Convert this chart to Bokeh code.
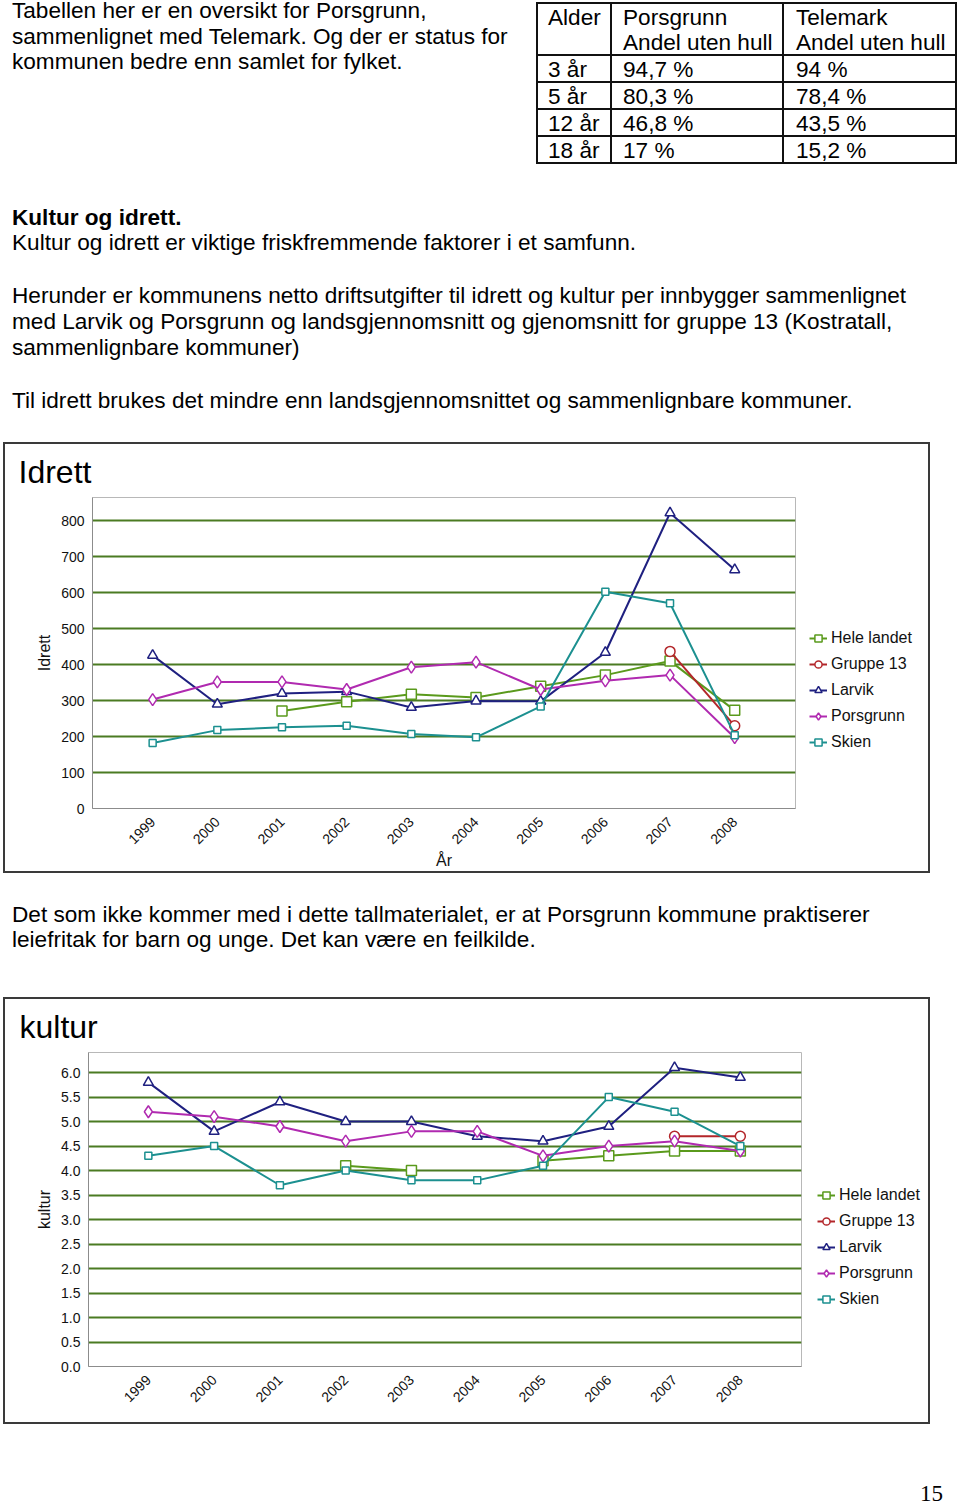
import math
import numpy as np
from bokeh.plotting import figure
from bokeh.models import (Div, Range1d, Legend, LegendItem,
                          NumeralTickFormatter, ColumnDataSource)
from bokeh.layouts import column, row
from bokeh.embed import file_html
from bokeh.resources import INLINE

# ---------------- data ----------------
years = [1999, 2000, 2001, 2002, 2003, 2004, 2005, 2006, 2007, 2008]
series_names = ["Hele landet", "Gruppe 13", "Larvik", "Porsgrunn", "Skien"]

idrett_hele_landet = [None, None, 271, 297, 318, 309, 340, 371, 410, 273]
idrett_gruppe13 = [None, None, None, None, None, None, None, None, 437, 230]
idrett_larvik = [426, 290, 320, 325, 281, 299, 298, 434, 822, 664]
idrett_porsgrunn = [303, 352, 352, 331, 393, 407, 331, 355, 371, 197]
idrett_skien = [182, 218, 226, 230, 207, 198, 284, 603, 571, 204]
idrett_ticks = [0, 100, 200, 300, 400, 500, 600, 700, 800]

kultur_hele_landet = [None, None, None, 4.1, 4.0, None, 4.2, 4.3, 4.4, 4.4]
kultur_gruppe13 = [None, None, None, None, None, None, None, None, 4.7, 4.7]
kultur_larvik = [5.8, 4.8, 5.4, 5.0, 5.0, 4.7, 4.6, 4.9, 6.1, 5.9]
kultur_porsgrunn = [5.2, 5.1, 4.9, 4.6, 4.8, 4.8, 4.3, 4.5, 4.6, 4.4]
kultur_skien = [4.3, 4.5, 3.7, 4.0, 3.8, 3.8, 4.1, 5.5, 5.2, 4.5]
kultur_ticks = [0.0, 0.5, 1.0, 1.5, 2.0, 2.5, 3.0, 3.5, 4.0, 4.5, 5.0, 5.5, 6.0]

table_header_1 = ["Alder", "Porsgrunn", "Telemark"]
table_header_2 = ["", "Andel uten hull", "Andel uten hull"]
table_ages = ["3 år", "5 år", "12 år", "18 år"]
table_porsgrunn = ["94,7 %", "80,3 %", "46,8 %", "17 %"]
table_telemark = ["94 %", "78,4 %", "43,5 %", "15,2 %"]

# ---------------- styles ----------------
FONT = "'Liberation Sans', Arial, sans-serif"
FS = 22.6
colors = {"Hele landet": "#5a9a1c", "Gruppe 13": "#b3262a", "Larvik": "#1f2080",
          "Porsgrunn": "#b02ab0", "Skien": "#1c9090"}
markers = {"Hele landet": ("square", 10), "Gruppe 13": ("circle", 10),
           "Larvik": ("triangle", 10), "Porsgrunn": ("diamond", 12),
           "Skien": ("square", 7)}


def txt(s, x, baseline, top0, bold=False, size=FS, family=FONT):
    lh = round(size * 1.18)
    top = baseline - top0 - round(size * 0.94)
    w = "bold" if bold else "normal"
    return (f'<div style="position:absolute;left:{x}px;top:{top}px;white-space:nowrap;'
            f'font-family:{family};font-size:{size}px;line-height:{lh}px;'
            f'font-weight:{w};color:#000;">{s}</div>')


def section(inner, h):
    html = (f'<div style="position:relative;width:960px;height:{h}px;overflow:visible;">'
            + inner + '</div>')
    return Div(text=html, width=960, height=h, margin=0)


# ---- section 1: intro text + table (y 0..170)
s1 = ""
s1 += txt("Tabellen her er en oversikt for Porsgrunn,", 12, 18, 0)
s1 += txt("sammenlignet med Telemark. Og der er status for", 12, 44, 0)
s1 += txt("kommunen bedre enn samlet for fylket.", 12, 69, 0)
vx = [537, 611, 783, 956]
hy = [3, 55, 82, 109, 136, 163]
for x in vx:
    s1 += f'<div style="position:absolute;left:{x-1}px;top:{hy[0]-1}px;width:2px;height:{hy[-1]-hy[0]+2}px;background:#111;"></div>'
for y in hy:
    s1 += f'<div style="position:absolute;left:{vx[0]-1}px;top:{y-1}px;width:{vx[-1]-vx[0]+2}px;height:2px;background:#111;"></div>'
colx = [548, 623, 796]
for i in range(3):
    s1 += txt(table_header_1[i], colx[i], 25, 0)
    if table_header_2[i]:
        s1 += txt(table_header_2[i], colx[i], 50, 0)
rowb = [77, 104, 131, 158]
for r in range(4):
    s1 += txt(table_ages[r], colx[0], rowb[r], 0)
    s1 += txt(table_porsgrunn[r], colx[1], rowb[r], 0)
    s1 += txt(table_telemark[r], colx[2], rowb[r], 0)
div1 = section(s1, 170)

# ---- section 2 (y 170..442)
t2 = 170
s2 = ""
s2 += txt("Kultur og idrett.", 12, 225, t2, bold=True)
s2 += txt("Kultur og idrett er viktige friskfremmende faktorer i et samfunn.", 12, 250, t2)
s2 += txt("Herunder er kommunens netto driftsutgifter til idrett og kultur per innbygger sammenlignet", 12, 303, t2)
s2 += txt("med Larvik og Porsgrunn og landsgjennomsnitt og gjenomsnitt for gruppe 13 (Kostratall,", 12, 329, t2)
s2 += txt("sammenlignbare kommuner)", 12, 355, t2)
s2 += txt("Til idrett brukes det mindre enn landsgjennomsnittet og sammenlignbare kommuner.", 12, 408, t2)
div2 = section(s2, 272)

# ---- section 3 (y 873..997)
t3 = 873
s3 = ""
s3 += txt("Det som ikke kommer med i dette tallmaterialet, er at Porsgrunn kommune praktiserer", 12, 922, t3)
s3 += txt("leiefritak for barn og unge. Det kan være en feilkilde.", 12, 947, t3)
div3 = section(s3, 124)

# ---- section 4 (y 1424..1505)
t4 = 1424
s4 = txt("15", 920, 1502, t4, size=23, family="'Liberation Serif', 'Times New Roman', serif")
div4 = section(s4, 81)


def make_chart(title, ylab, xlab, data, y_end, ticks, fmt, height,
               fl, fw, ft, fb, xs, xe, leg_x, leg_y, title_off):
    W = fl + fw + 1
    LW = 923 - W
    p = figure(width=W, height=height, output_backend="svg", toolbar_location=None,
               x_range=Range1d(xs, xe), y_range=Range1d(0, y_end),
               min_border_left=fl, min_border_right=1, min_border_top=ft,
               min_border_bottom=fb, background_fill_color="white",
               border_fill_color="white", outline_line_color="#b8b8b8",
               outline_line_width=1, margin=0)
    p.title.text = title
    p.title.text_font = "Liberation Sans"
    p.title.text_font_size = "32px"
    p.title.text_font_style = "normal"
    p.title.text_color = "#000000"
    p.title.align = "left"
    p.title.offset = title_off
    p.title.standoff = 15
    p.xaxis.ticker = years
    p.yaxis.ticker = ticks
    p.yaxis.formatter = NumeralTickFormatter(format=fmt)
    p.xaxis.major_label_orientation = math.pi / 4
    for ax in (p.xaxis, p.yaxis):
        ax.axis_line_color = "#8c8c8c"
        ax.major_tick_line_color = None
        ax.minor_tick_line_color = None
        ax.major_tick_out = 0
        ax.major_tick_in = 0
        ax.minor_tick_out = 0
        ax.minor_tick_in = 0
        ax.major_label_text_font = "Liberation Sans"
        ax.major_label_text_font_size = "14px"
        ax.major_label_text_color = "#111111"
        ax.axis_label_text_font = "Liberation Sans"
        ax.axis_label_text_font_size = "16px"
        ax.axis_label_text_font_style = "normal"
        ax.axis_label_text_color = "#111111"
    p.yaxis.major_label_standoff = 8
    p.yaxis.axis_label_standoff = 5
    p.xaxis.major_label_standoff = 11
    p.xaxis.axis_label_standoff = 0
    p.yaxis.axis_label = ylab
    if xlab:
        p.xaxis.axis_label = xlab
    p.xgrid.grid_line_color = None
    p.ygrid.grid_line_color = "#4b7b22"
    p.ygrid.grid_line_width = 2

    # legend panel (separate canvas to the right of the plot area)
    q = figure(width=LW, height=height, output_backend="svg", toolbar_location=None,
               x_range=Range1d(0, 1), y_range=Range1d(0, 1), min_border=0,
               background_fill_color="white", border_fill_color="white",
               outline_line_color=None, margin=0)
    q.axis.visible = False
    q.grid.visible = False

    items = []
    for name, vals in zip(series_names, data):
        y = np.array(vals, dtype=float)
        src = ColumnDataSource(dict(x=years, y=y))
        c = colors[name]
        mk, sz = markers[name]
        p.line("x", "y", source=src, line_color=c, line_width=2)
        p.scatter("x", "y", source=src, marker=mk, size=sz, line_color=c,
                  line_width=1.5, fill_color="white")
        dummy = ColumnDataSource(dict(x=[np.nan], y=[np.nan]))
        lr = q.line("x", "y", source=dummy, line_color=c, line_width=2)
        sr = q.scatter("x", "y", source=dummy, marker=mk, size=min(sz, 10),
                       line_color=c, line_width=1.5, fill_color="white")
        items.append(LegendItem(label=name, renderers=[lr, sr]))
    leg = Legend(items=items, location=(leg_x, leg_y), padding=0, margin=0,
                 border_line_alpha=0, background_fill_alpha=0,
                 label_text_font="Liberation Sans", label_text_font_size="16px",
                 label_text_color="#111111",
                 glyph_width=18, glyph_height=20, label_height=20, spacing=6,
                 label_standoff=4)
    q.add_layout(leg)
    return row(p, q, spacing=0, margin=(2, 2, 2, 5),
               styles={"box-shadow": "0 0 0 2px #3a3a3a"})


# idrett: plot area x 92..795, y 497..808 (page pixels)
c1 = make_chart("Idrett", "Idrett", "År",
                [idrett_hele_landet, idrett_gruppe13, idrett_larvik, idrett_porsgrunn, idrett_skien],
                865, idrett_ticks, "0", 427, 87, 703, 53, 63, 1998.07, 2008.94, 13, 56, -74)
# kultur: plot area x 88..801, y 1052..1366
c2 = make_chart("kultur", "kultur", "",
                [kultur_hele_landet, kultur_gruppe13, kultur_larvik, kultur_porsgrunn, kultur_skien],
                6.41, kultur_ticks, "0.0", 423, 83, 713, 53, 56, 1998.09, 2008.93, 15, 57, -69)

layout = column(div1, div2, c1, div3, c2, div4, spacing=0, margin=0)
open("out.html", "w").write(file_html(layout, INLINE))
